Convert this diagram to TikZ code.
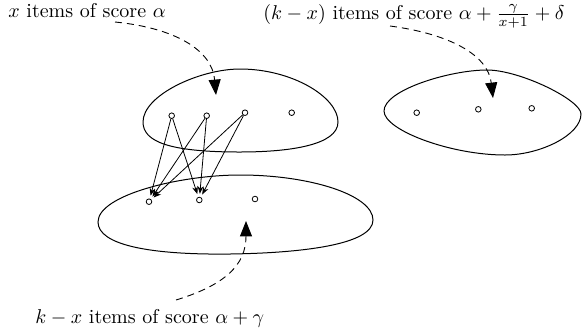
\documentclass[tikz,border=0pt]{standalone}
\usetikzlibrary{arrows.meta}
\begin{document}
\begin{tikzpicture}[x=0.5pt,y=-0.5pt,
  blob/.style={line width=0.5pt},
  item/.style={circle,draw,line width=0.4pt,inner sep=0pt,minimum size=2.8pt},
  link/.style={line width=0.4pt,-{Stealth[length=3.8pt,width=2.9pt]},shorten >=1.5pt},
  pointer/.style={line width=0.45pt,dash pattern=on 3.5pt off 2.5pt,-{Triangle[length=7.7pt,width=6pt]}},
  lbl/.style={anchor=base west,inner sep=0pt}]
\useasboundingbox (0,0) rectangle (582,333);
% blobs
\draw[blob] (143,122) .. controls (143,95) and (200,69) .. (240,69)
  .. controls (292,69) and (338,97) .. (338,122)
  .. controls (338,145) and (290,152) .. (240,152)
  .. controls (170,152) and (143,142) .. cycle;
\draw[blob] (98,222) .. controls (98,195) and (180,175) .. (240,175)
  .. controls (310,175) and (373,195) .. (373,220)
  .. controls (373,245) and (300,253) .. (230,254)
  .. controls (150,255) and (98,245) .. cycle;
\draw[blob] (384,111) .. controls (384,90) and (450,70) .. (487,70)
  .. controls (520,70) and (581,100) .. (581,114)
  .. controls (581,135) and (540,155) .. (505,155)
  .. controls (450,155) and (384,130) .. cycle;
% items
\node[item] (t1) at (171.7,115.7) {};
\node[item] (t2) at (206.7,115.7) {};
\node[item] (t3) at (245,112.7) {};
\node[item] (t4) at (291.7,112.7) {};
\node[item] (b1) at (149,201.7) {};
\node[item] (b2) at (199.3,200) {};
\node[item] (b3) at (255,199) {};
\node[item] (r1) at (416.7,112.7) {};
\node[item] (r2) at (478.3,109.3) {};
\node[item] (r3) at (531.7,108.3) {};
% links
\foreach \s in {t1,t2,t3}{
  \draw[link] (\s) -- (b1);
  \draw[link] (\s) -- (b2);
}
% labels
\node[lbl] (l1) at (8,17) {$x$ items of score $\alpha$};
\node[lbl] (l2) at (263,19.5) {$(k-x)$ items of score $\alpha+\frac{\gamma}{x+1}+\delta$};
\node[lbl] (l3) at (35,323) {$k-x$ items of score $\alpha+\gamma$};
% pointers
\coordinate (s1) at (115,22);
\coordinate (e1) at (216,95);
\coordinate (s2) at (390,26);
\coordinate (e2) at (493,98);
\coordinate (s3) at (176,300);
\coordinate (e3) at (246,221);
\draw[pointer] (s1) .. controls (175,28) and (212,50) .. (e1);
\draw[pointer] (s2) .. controls (450,34) and (488,55) .. (e2);
\draw[pointer] (s3) .. controls (225,285) and (246,265) .. (e3);
\end{tikzpicture}
\end{document}
